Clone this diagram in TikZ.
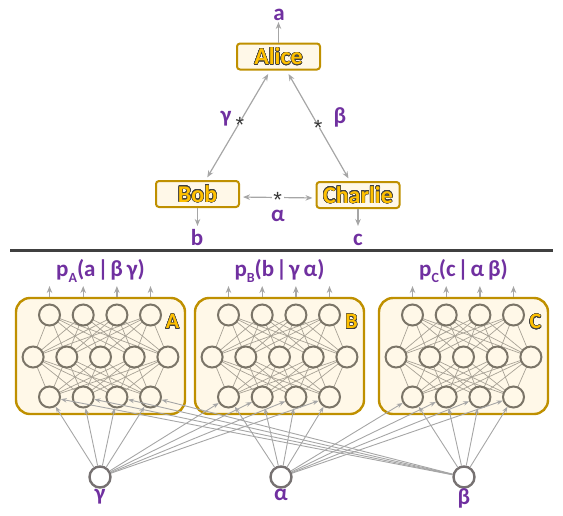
\documentclass[tikz,border=0pt]{standalone}
\usepackage{fontspec}
\setmainfont{Carlito}
\newfontfamily\starfont{Liberation Sans}
\usepackage[copies]{contour}
\contourlength{0.45pt}
\contournumber{24}
\usetikzlibrary{arrows.meta}
\definecolor{purp}{HTML}{7030A0}
\definecolor{gold}{HTML}{FFC000}
\definecolor{goldborder}{HTML}{BF9000}
\definecolor{cream}{HTML}{FFF8E8}
\definecolor{outl}{HTML}{404040}
\definecolor{arrowgray}{HTML}{A6A6A6}
\definecolor{neurongray}{HTML}{7B7568}
\definecolor{edgegray}{HTML}{A8A296}
\definecolor{latgray}{HTML}{767171}
\definecolor{rulegray}{HTML}{404040}
\pgfdeclarelayer{boxes}
\pgfdeclarelayer{wires}
\pgfsetlayers{boxes,wires,main}
\newcommand{\goldtxt}[1]{\textcolor{gold}{\contour{outl}{#1}}}
\newcommand{\subl}[1]{\raisebox{-0.28em}{\fontsize{14}{14}\selectfont #1}}
\newcommand{\bargap}{\kern2pt|\kern2pt}
\newcommand{\starglyph}{\raisebox{-0.38em}{*}}
\tikzset{
  agent/.style={draw=goldborder, line width=2pt, fill=cream, rounded corners=3pt,
    minimum width=83pt, minimum height=26pt, inner sep=1pt,
    font=\fontsize{24}{24}\selectfont\bfseries},
  lbl/.style={text=purp, font=\fontsize{23}{24}\selectfont\bfseries, inner sep=1pt},
  con/.style={draw=arrowgray, line width=1.2pt, -{Stealth[length=7pt,width=5.5pt]}},
  biarrow/.style={draw=arrowgray, line width=1.2pt,
    {Stealth[length=7pt,width=5.5pt]}-{Stealth[length=7pt,width=5.5pt]}},
  starmark/.style={fill=white, inner xsep=1.5pt, inner ysep=0.5pt, font=\starfont\fontsize{22}{22}\selectfont,
    text=black!78, text height=0.36em, text depth=0pt},
  netbox/.style={draw=goldborder, line width=2.4pt, fill=cream, rounded corners=14pt,
    minimum width=169pt, minimum height=116pt},
  neuron/.style={circle, draw=neurongray, line width=2pt, fill=cream, minimum size=21pt, inner sep=0pt},
  latent/.style={circle, draw=latgray, line width=2.4pt, fill=white, minimum size=21pt, inner sep=0pt},
  wire/.style={draw=edgegray, line width=0.7pt},
  inarrow/.style={draw=arrowgray, line width=0.9pt, -{Stealth[length=6pt,width=4.5pt]}},
  outarrow/.style={draw=arrowgray, line width=1.2pt, -{Stealth[length=7pt,width=5.5pt]}},
  plabel/.style={text=purp, font=\fontsize{23}{24}\selectfont\bfseries, inner sep=1pt},
  boxletter/.style={font=\fontsize{22}{22}\selectfont\bfseries, inner sep=0pt},
}
\begin{document}
\begin{tikzpicture}[x=1pt,y=-1pt]
\useasboundingbox (0,0) rectangle (563,515);
% ---------- top part ----------
\node[agent] (alice) at (278.5,56.5) {\goldtxt{Alice}};
\node[agent] (bob) at (197.5,194) {\goldtxt{Bob}};
\node[agent] (charlie) at (358,195) {\goldtxt{Charlie}};
\node[lbl, anchor=base] (la) at (279,20.5) {a};
\node[lbl, anchor=base] (lb) at (197,245) {b};
\node[lbl, anchor=base] (lc) at (358,245) {c};
\coordinate (ta) at (278.5,22);
\coordinate (tb) at (197.5,226);
\coordinate (tc) at (358,226);
\draw[con] (alice.north) -- (ta);
\draw[con] (bob.south) -- (tb);
\draw[con] (charlie.south) -- (tc);
\draw[biarrow, shorten <=4pt, shorten >=3pt] (alice) -- node[starmark, pos=0.47] (s1) {\starglyph} (bob);
\draw[biarrow, shorten <=4pt, shorten >=3pt] (alice) -- node[starmark, pos=0.5] (s2) {\starglyph} (charlie);
\draw[biarrow, shorten <=3pt, shorten >=3pt] ([yshift=-3pt]bob.east) -- node[starmark] (s3) {\starglyph} ([yshift=-3pt]charlie.west);
\node[lbl] (lgamma) at (226,119) {γ};
\node[lbl] (lbeta) at (340,117) {β};
\node[lbl] (lalpha) at (278,216) {α};
% ---------- separator ----------
\coordinate (r1) at (10,250.5);
\coordinate (r2) at (553,250.5);
\draw[rulegray, line width=3pt] (r1) -- (r2);
% ---------- networks ----------
\foreach \nm/\cx/\ptxt in {A/100.5/{p\subl{A}(a\bargap β\,γ)}, B/279.5/{p\subl{B}(b\bargap γ\,α)}, C/463.5/{p\subl{C}(c\bargap α\,β)}} {
  \begin{pgfonlayer}{boxes}
    \node[netbox] (box\nm) at (\cx,356) {};
  \end{pgfonlayer}
  \foreach \i/\dx in {1/-51,2/-17.3,3/16.4,4/50} {
    \node[neuron] (\nm t\i) at (\cx+\dx,315) {};
    \node[neuron] (\nm b\i) at (\cx+\dx,397) {};
    \coordinate (\nm os\i) at (\cx+\dx,297);
    \coordinate (\nm oe\i) at (\cx+\dx,286);
    \draw[outarrow] (\nm os\i) -- (\nm oe\i);
  }
  \foreach \j/\dx in {1/-67.4,2/-33.7,3/0,4/33.7,5/67.4} {
    \node[neuron] (\nm m\j) at (\cx+\dx,357) {};
  }
  \begin{pgfonlayer}{wires}
    \foreach \i in {1,...,4} {
      \foreach \j in {1,...,5} {
        \draw[wire] (\nm t\i.center) -- (\nm m\j.center);
        \draw[wire] (\nm b\i.center) -- (\nm m\j.center);
      }
    }
  \end{pgfonlayer}
  \node[plabel] (p\nm) at (\cx,271) {\ptxt};
  \node[boxletter] (let\nm) at (\cx+72,322) {\goldtxt{\nm}};
}
% ---------- latent sources ----------
\node[latent] (g) at (100,477) {};
\node[latent] (al) at (281,477) {};
\node[latent] (be) at (464,477) {};
\node[lbl] (lg) at (100,497) {γ};
\node[lbl] (lal) at (281,495) {α};
\node[lbl] (lbe) at (464,498) {β};
\foreach \i in {1,...,4} {
  \draw[inarrow] (g) -- (Ab\i);
  \draw[inarrow] (g) -- (Bb\i);
  \draw[inarrow] (al) -- (Bb\i);
  \draw[inarrow] (al) -- (Cb\i);
  \draw[inarrow] (be) -- (Ab\i);
  \draw[inarrow] (be) -- (Cb\i);
}
\end{tikzpicture}
\end{document}
